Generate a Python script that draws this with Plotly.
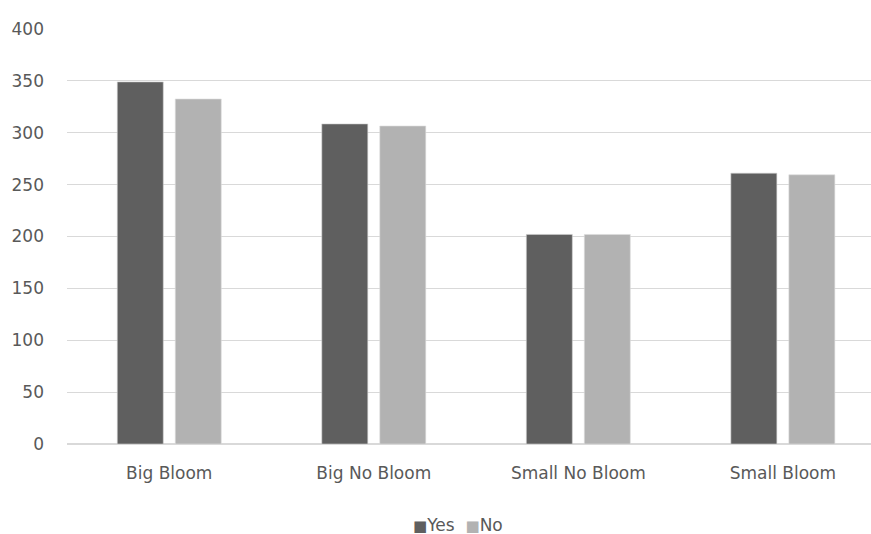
import plotly.graph_objects as go

categories = ["Big Bloom", "Big No Bloom", "Small No Bloom", "Small Bloom"]
yes_values = [349, 308.5, 202, 261]
no_values = [332.5, 306.5, 202, 259.5]
y_ticks = [0, 50, 100, 150, 200, 250, 300, 350, 400]

YES_COLOR = "#5f5f5f"
NO_COLOR = "#b2b2b2"
FAMILY = "DejaVu Sans, sans-serif"
font = dict(family=FAMILY, size=17, color="#595959")

fig = go.Figure()
fig.add_trace(go.Bar(name="Yes", x=categories, y=yes_values,
                     marker=dict(color=YES_COLOR, line=dict(color="#d0d0d0", width=0.6))))
fig.add_trace(go.Bar(name="No", x=categories, y=no_values,
                     marker=dict(color=NO_COLOR, line=dict(color="#dedede", width=0.6))))

# compact legend beneath the plot
fig.add_annotation(
    xref="paper", yref="paper", x=(458 - 67) / 804, y=-0.195,
    xanchor="center", yanchor="middle", showarrow=False,
    text=(f"<span style='color:{YES_COLOR};font-size:15px'>■</span>Yes  "
          f"<span style='color:{NO_COLOR};font-size:15px'>■</span>No"),
    font=dict(family=FAMILY, size=17, color="#595959"),
)

fig.update_layout(
    width=871, height=534,
    margin=dict(l=67, r=0, t=29, b=90),
    paper_bgcolor="white", plot_bgcolor="white",
    font=font,
    barmode="group", bargap=0.433, bargroupgap=0.207,
    showlegend=False,
)
fig.update_xaxes(range=[-0.5, 3.431], showgrid=False, showline=False,
                 ticks="outside", ticklen=14, tickcolor="rgba(0,0,0,0)",
                 zeroline=False)
fig.update_yaxes(range=[0, 400], tickvals=y_ticks, showgrid=True,
                 gridcolor="#d9d9d9", gridwidth=1.3, zeroline=True,
                 zerolinecolor="#d9d9d9", zerolinewidth=1.5,
                 showline=False, ticklabelstandoff=22)

fig.write_html("out.html")
